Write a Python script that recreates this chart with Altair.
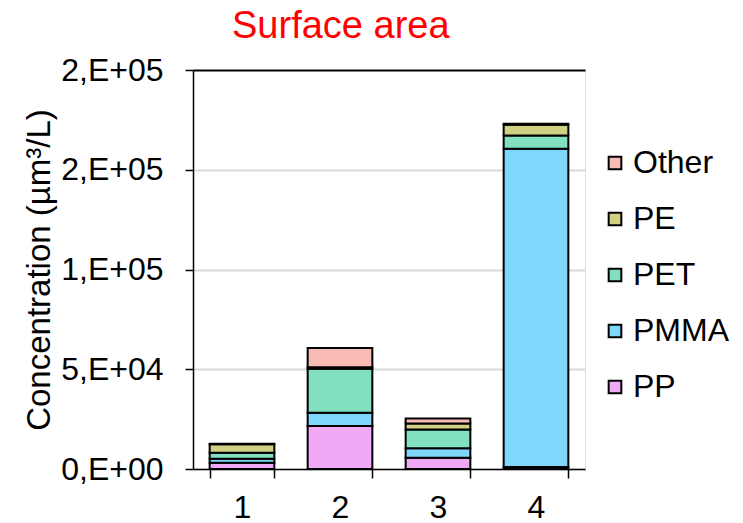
import altair as alt
import pandas as pd

categories = ["1", "2", "3", "4"]
polymers = ["PP", "PMMA", "PET", "PE", "Other"]  # bottom to top
PP = [3100, 21500, 5600, 1000]
PMMA = [2000, 6700, 4800, 159500]
PET = [3000, 22000, 9400, 6700]
PE = [4300, 800, 3000, 5400]
Other = [200, 9700, 2500, 500]
colors = {"Other": "#F8BBB6", "PE": "#D1D183", "PET": "#82E0C0", "PMMA": "#7FD7FB", "PP": "#EFA9F5"}
tick_values = [0, 50000, 100000, 150000, 200000]
tick_labels = ["0,E+00", "5,E+04", "1,E+05", "2,E+05", "2,E+05"]

series = {"PP": PP, "PMMA": PMMA, "PET": PET, "PE": PE, "Other": Other}
rows = []
for i, p in enumerate(polymers):
    for c, v in zip(categories, series[p]):
        rows.append({"cat": c, "polymer": p, "value": v, "ord": i})
df = pd.DataFrame(rows)

legend_order = ["Other", "PE", "PET", "PMMA", "PP"]

label_expr = ""
for v, l in zip(tick_values, tick_labels):
    label_expr += f"datum.value == {v} ? '{l}' : "
label_expr += "''"

FONT = "Liberation Sans"

chart = alt.Chart(df).mark_bar(stroke="black", strokeWidth=2).encode(
    x=alt.X("cat:N", title=None, sort=categories,
            scale=alt.Scale(paddingInner=0.34, paddingOuter=0.17),
            axis=alt.Axis(labelAngle=0, tickBand="extent", tickSize=9, tickColor="black",
                          tickWidth=1.5, domainColor="black", domainWidth=1.5,
                          labelFontSize=32, labelFont=FONT, labelColor="black",
                          labelPadding=14, grid=False)),
    y=alt.Y("value:Q", stack="zero", title="Concentration (µm³/L)",
            scale=alt.Scale(domain=[0, 200000], nice=False),
            axis=alt.Axis(values=tick_values, labelExpr=label_expr, tickSize=8,
                          tickColor="black", tickWidth=1.5, domainColor="black",
                          domainWidth=1.5, labelFontSize=32, labelFont=FONT,
                          labelColor="black", labelPadding=22,
                          titleFontSize=33, titleFont=FONT, titleFontWeight="normal",
                          titleColor="black", titlePadding=4,
                          gridColor={"condition": {"test": "datum.value == 200000", "value": "black"},
                                     "value": "#d9d9d9"},
                          gridWidth=2)),
    color=alt.Color("polymer:N",
                    scale=alt.Scale(domain=legend_order, range=[colors[p] for p in legend_order]),
                    legend=alt.Legend(title=None, orient="none", legendX=406, legendY=77,
                                      symbolType="square", symbolSize=160,
                                      symbolStrokeColor="black", symbolStrokeWidth=2,
                                      labelFontSize=32, labelFont=FONT, labelColor="black",
                                      labelOffset=2, rowPadding=24)),
    order=alt.Order("ord:Q", sort="ascending"),
).properties(
    width=392, height=399,
    title=alt.TitleParams("Surface area", color="#FF0000", fontSize=38, font=FONT,
                          fontWeight="normal", anchor="start", frame="group", dx=39, offset=8),
).configure_view(stroke="black", strokeWidth=1.5).configure(
    padding={"left": 193, "top": 70, "right": 158, "bottom": 54}, autosize="none"
)

chart.save("out.html", embed_options={"renderer": "svg", "actions": False})
